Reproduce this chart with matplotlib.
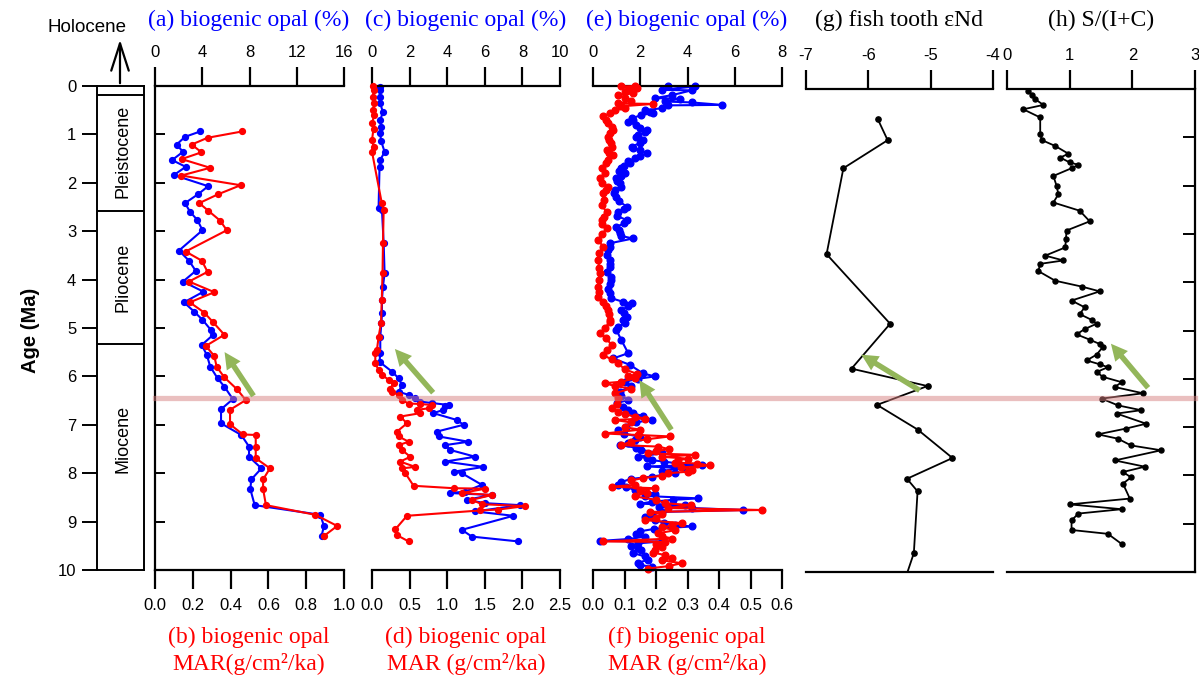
import numpy as np
import matplotlib.pyplot as plt
from matplotlib.lines import Line2D
from matplotlib.patches import FancyArrowPatch
from matplotlib.ticker import FormatStrFormatter

plt.rcParams['font.family'] = ['Liberation Sans', 'DejaVu Sans']
plt.rcParams['axes.unicode_minus'] = False

# ---- data (ages in Ma) ----
ages_ticks = list(range(11))
epoch_names = ['Pleistocene', 'Pliocene', 'Miocene']
epoch_bounds = [0.18, 2.58, 5.33, 10.0]
epoch_label_pos = [1.36, 3.95, 7.3]

# (a) biogenic opal %, (b) MAR
a_age = [0.94, 1.05, 1.21, 1.36, 1.53, 1.67, 1.84, 2.07, 2.23, 2.42, 2.60, 2.77, 2.98,
         3.40, 3.61, 3.82, 4.04, 4.25, 4.47, 4.66, 4.83, 5.04, 5.15, 5.35, 5.56, 5.80,
         6.04, 6.21, 6.47, 6.68, 6.97, 7.21, 7.45, 7.66, 7.90, 8.13, 8.33, 8.66, 8.86,
         9.09, 9.30]
a_pct = [3.82, 2.54, 1.83, 2.37, 1.45, 2.60, 1.60, 4.50, 3.68, 2.54, 2.97, 3.59, 4.02,
         2.03, 2.88, 3.45, 2.37, 4.10, 2.45, 3.31, 4.02, 4.73, 4.88, 3.96, 4.39, 4.68,
         5.30, 5.87, 6.59, 5.59, 5.59, 7.30, 7.96, 7.96, 9.01, 8.15, 8.07, 8.44, 14.0,
         14.3, 14.1]
b_age = [0.94, 1.07, 1.21, 1.37, 1.51, 1.69, 1.85, 2.05, 2.24, 2.42, 2.58, 2.78, 2.98,
         3.42, 3.61, 3.84, 4.04, 4.26, 4.47, 4.68, 4.87, 5.14, 5.37, 5.58, 5.80, 6.02,
         6.27, 6.49, 6.69, 6.99, 7.20, 7.21, 7.45, 7.69, 7.90, 8.13, 8.33, 8.66, 8.86,
         9.09, 9.30]
b_mar = [0.46, 0.278, 0.194, 0.246, 0.141, 0.292, 0.139, 0.453, 0.332, 0.234, 0.283,
         0.344, 0.38, 0.162, 0.248, 0.278, 0.18, 0.314, 0.184, 0.26, 0.305, 0.367, 0.269,
         0.314, 0.326, 0.367, 0.435, 0.48, 0.397, 0.397, 0.465, 0.533, 0.533, 0.533,
         0.608, 0.572, 0.572, 0.587, 0.849, 0.964, 0.893]

# (c) biogenic opal %, (d) MAR
c_age = [0.02, 0.08, 0.22, 0.36, 0.54, 0.70, 0.84, 0.98, 1.13, 1.36, 1.53, 1.67, 2.53,
         2.56, 3.25, 3.87, 4.15, 4.42, 4.70, 4.90, 5.18, 5.52, 5.70, 5.90, 6.04, 6.18,
         6.32, 6.38, 6.45, 6.52, 6.55, 6.59, 6.62, 6.69, 6.76, 6.90, 7.00, 7.14, 7.24,
         7.35, 7.42, 7.52, 7.66, 7.76, 7.87, 7.97, 8.00, 8.24, 8.38, 8.41, 8.45, 8.55,
         8.62, 8.66, 8.79, 8.88, 9.17, 9.31, 9.41]
c_pct = [0.44, 0.44, 0.40, 0.44, 0.58, 0.44, 0.48, 0.44, 0.48, 0.67, 0.44, 0.40, 0.35,
         0.53, 0.62, 0.67, 0.58, 0.53, 0.53, 0.50, 0.44, 0.44, 0.40, 1.06, 1.42, 1.59,
         1.42, 1.95, 2.30, 2.57, 3.18, 4.07, 3.89, 3.80, 3.27, 4.51, 4.87, 3.45, 3.54,
         5.13, 3.89, 4.16, 5.49, 3.89, 5.93, 4.34, 4.78, 5.84, 4.96, 4.16, 6.37, 5.04,
         6.02, 7.88, 5.49, 7.52, 4.78, 5.31, 7.79]
d_age = [0.00, 0.08, 0.22, 0.36, 0.50, 0.60, 0.77, 0.88, 1.12, 1.25, 1.36, 2.42, 2.56,
         3.25, 3.87, 4.42, 4.90, 5.18, 5.45, 5.52, 5.73, 5.87, 5.97, 6.07, 6.14, 6.25,
         6.32, 6.38, 6.49, 6.56, 6.57, 6.59, 6.66, 6.69, 6.76, 6.83, 6.97, 7.14, 7.24,
         7.35, 7.42, 7.52, 7.66, 7.76, 7.87, 7.90, 8.00, 8.26, 8.31, 8.32, 8.41, 8.45,
         8.55, 8.64, 8.68, 8.75, 8.77, 8.88, 9.16, 9.28, 9.41]
d_mar = [0.013, 0.02, 0.013, 0.03, 0.013, 0.03, 0.0, 0.02, 0.0, 0.02, 0.0, 0.13, 0.155,
         0.146, 0.14, 0.13, 0.12, 0.088, 0.066, 0.044, 0.044, 0.088, 0.133, 0.221, 0.287,
         0.243, 0.265, 0.354, 0.398, 0.487, 0.641, 0.796, 0.752, 0.597, 0.641, 0.376,
         0.465, 0.332, 0.354, 0.487, 0.354, 0.398, 0.509, 0.376, 0.575, 0.398, 0.443,
         0.553, 1.084, 1.505, 1.195, 1.594, 1.328, 1.46, 2.036, 1.682, 1.438, 0.465,
         0.31, 0.332, 0.487]

# (e) biogenic opal %, (f) MAR  (age, value)
e_points = [
    (0.00, 3.18), (0.01, 4.32), (0.08, 2.90), (0.09, 4.18), (0.19, 3.33), (0.25, 2.62),
    (0.26, 3.68), (0.32, 3.04), (0.34, 4.18), (0.39, 5.45), (0.40, 3.18), (0.46, 2.90),
    (0.50, 2.20), (0.53, 2.40), (0.56, 2.55), (0.60, 2.05), (0.67, 1.63), (0.70, 1.70),
    (0.74, 1.49), (0.81, 1.84), (0.86, 2.00), (0.91, 2.27), (0.96, 2.20), (1.01, 1.91),
    (1.06, 1.80), (1.12, 2.12), (1.18, 2.00), (1.25, 1.63), (1.29, 1.70), (1.32, 1.98),
    (1.39, 2.27), (1.44, 2.00), (1.49, 1.77), (1.55, 1.50), (1.60, 1.56), (1.65, 1.30),
    (1.70, 1.20), (1.75, 1.10), (1.80, 1.35), (1.86, 1.20), (1.91, 0.99), (1.96, 1.00),
    (2.01, 1.13), (2.08, 1.20), (2.15, 0.92), (2.22, 0.90), (2.29, 0.99), (2.38, 1.10),
    (2.49, 1.42), (2.55, 1.30), (2.60, 1.06), (2.68, 1.00), (2.77, 1.42), (2.84, 1.30),
    (2.91, 0.99), (2.97, 1.10), (3.04, 1.13), (3.10, 1.20), (3.15, 1.70), (3.25, 0.71),
    (3.32, 0.70), (3.39, 0.64), (3.50, 0.60), (3.60, 0.71), (3.67, 0.70), (3.73, 0.71),
    (3.85, 0.60), (3.95, 0.75), (4.01, 0.78), (4.10, 0.70), (4.20, 0.65), (4.28, 0.71),
    (4.38, 0.75), (4.46, 1.28), (4.49, 1.63), (4.55, 1.50), (4.63, 1.20), (4.70, 1.30),
    (4.77, 1.42), (4.84, 1.25), (4.90, 1.35), (4.97, 1.06), (5.04, 0.99), (5.25, 1.20),
    (5.52, 1.49), (5.63, 0.85), (5.76, 1.56), (5.94, 2.12), (6.00, 2.62), (6.05, 1.90),
    (6.11, 1.35), (6.20, 1.60), (6.32, 1.13), (6.40, 1.20), (6.49, 1.49), (6.55, 1.00),
    (6.63, 1.28), (6.70, 1.50), (6.76, 1.70), (6.82, 2.10), (6.90, 2.48), (6.95, 1.80),
    (7.05, 1.40), (7.11, 1.06), (7.18, 1.30), (7.25, 2.00), (7.31, 1.77), (7.37, 1.50),
    (7.42, 1.13), (7.47, 1.80), (7.52, 2.05), (7.59, 2.90), (7.66, 1.91), (7.69, 2.30),
    (7.73, 2.48), (7.76, 3.00), (7.80, 3.61), (7.83, 4.60), (7.86, 2.27), (7.90, 3.90),
    (7.95, 2.90), (8.00, 3.47), (8.07, 2.48), (8.12, 1.60), (8.18, 1.20), (8.24, 1.06),
    (8.28, 1.40), (8.35, 1.77), (8.42, 2.62), (8.47, 2.20), (8.52, 4.46), (8.55, 3.40),
    (8.59, 2.48), (8.63, 2.00), (8.66, 3.89), (8.70, 2.80), (8.72, 4.20), (8.76, 6.37),
    (8.80, 2.90), (8.85, 2.50), (8.90, 2.20), (8.97, 2.62), (9.02, 3.00), (9.07, 3.47),
    (9.10, 4.18), (9.15, 2.60), (9.20, 2.00), (9.25, 1.80), (9.31, 2.20), (9.36, 1.50),
    (9.40, 0.28), (9.41, 2.90), (9.45, 1.90), (9.50, 1.60), (9.55, 1.90), (9.59, 2.05),
    (9.65, 1.70), (9.72, 2.20), (9.79, 2.34), (9.85, 1.90), (9.90, 2.00), (9.93, 2.48),
]
f_points = [
    (0.00, 0.133), (0.01, 0.090), (0.05, 0.140), (0.08, 0.112), (0.12, 0.100),
    (0.15, 0.127), (0.19, 0.080), (0.25, 0.101), (0.30, 0.120), (0.36, 0.080),
    (0.37, 0.191), (0.42, 0.090), (0.46, 0.101), (0.50, 0.070), (0.56, 0.053),
    (0.63, 0.032), (0.70, 0.040), (0.77, 0.048), (0.84, 0.060), (0.91, 0.064),
    (0.98, 0.055), (1.05, 0.048), (1.12, 0.050), (1.18, 0.058), (1.25, 0.060),
    (1.32, 0.043), (1.38, 0.050), (1.43, 0.064), (1.53, 0.048), (1.60, 0.040),
    (1.70, 0.027), (1.80, 0.037), (1.91, 0.021), (2.00, 0.030), (2.08, 0.048),
    (2.15, 0.040), (2.22, 0.032), (2.35, 0.035), (2.46, 0.027), (2.60, 0.043),
    (2.70, 0.035), (2.77, 0.027), (2.85, 0.030), (2.94, 0.043), (3.05, 0.030),
    (3.18, 0.016), (3.32, 0.032), (3.45, 0.020), (3.60, 0.016), (3.75, 0.020),
    (3.87, 0.021), (4.00, 0.020), (4.15, 0.016), (4.25, 0.020), (4.35, 0.016),
    (4.46, 0.032), (4.55, 0.040), (4.63, 0.048), (4.72, 0.050), (4.84, 0.053),
    (4.87, 0.053), (5.01, 0.037), (5.11, 0.021), (5.20, 0.040), (5.35, 0.059),
    (5.45, 0.045), (5.56, 0.032), (5.65, 0.060), (5.73, 0.080), (5.85, 0.100),
    (5.95, 0.140), (6.00, 0.110), (6.04, 0.133), (6.11, 0.090), (6.14, 0.037),
    (6.20, 0.070), (6.25, 0.120), (6.35, 0.069), (6.45, 0.080), (6.56, 0.075),
    (6.65, 0.060), (6.73, 0.080), (6.78, 0.100), (6.83, 0.133), (6.87, 0.165),
    (6.90, 0.069), (6.95, 0.120), (7.05, 0.100), (7.10, 0.150), (7.18, 0.037),
    (7.21, 0.143), (7.24, 0.244), (7.30, 0.170), (7.35, 0.120), (7.42, 0.090),
    (7.45, 0.207), (7.50, 0.240), (7.55, 0.200), (7.59, 0.175), (7.62, 0.324),
    (7.66, 0.218), (7.70, 0.300), (7.73, 0.271), (7.78, 0.260), (7.80, 0.330),
    (7.84, 0.372), (7.88, 0.280), (7.93, 0.313), (7.97, 0.300), (8.00, 0.239),
    (8.05, 0.220), (8.10, 0.160), (8.15, 0.120), (8.24, 0.133), (8.28, 0.059),
    (8.31, 0.196), (8.35, 0.150), (8.40, 0.170), (8.48, 0.133), (8.55, 0.200),
    (8.62, 0.228), (8.66, 0.310), (8.72, 0.239), (8.76, 0.536), (8.80, 0.180),
    (8.85, 0.220), (8.92, 0.200), (8.97, 0.165), (9.03, 0.281), (9.08, 0.250),
    (9.12, 0.220), (9.18, 0.260), (9.24, 0.207), (9.30, 0.220), (9.35, 0.250),
    (9.41, 0.032), (9.42, 0.228), (9.47, 0.200), (9.52, 0.220), (9.59, 0.196),
    (9.64, 0.190), (9.69, 0.228), (9.75, 0.250), (9.80, 0.220), (9.86, 0.281),
    (9.92, 0.240), (9.97, 0.175),
]

# (g) fish tooth eNd
g_age = [0.62, 1.06, 1.64, 3.42, 4.86, 5.79, 6.15, 6.54, 7.05, 7.64, 8.07, 8.33, 9.61]
g_end = [-5.85, -5.69, -6.40, -6.67, -5.65, -6.27, -5.05, -5.86, -5.21, -4.65, -5.38,
         -5.21, -5.27]
g_tail_age, g_tail_end = 10.3, -5.45

# (h) S/(I+C)
h_age = [0.04, 0.12, 0.21, 0.33, 0.42, 0.59, 0.94, 1.06, 1.18, 1.34, 1.42, 1.52, 1.57,
         1.64, 1.80, 2.00, 2.18, 2.35, 2.52, 2.74, 2.93, 3.11, 3.28, 3.45, 3.55, 3.62,
         3.77, 3.97, 4.09, 4.19, 4.38, 4.52, 4.66, 4.78, 4.86, 4.97, 5.08, 5.19, 5.28,
         5.34, 5.50, 5.62, 5.70, 5.76, 5.86, 5.96, 6.07, 6.17, 6.30, 6.41, 6.55, 6.65,
         6.72, 6.93, 7.03, 7.15, 7.24, 7.38, 7.48, 7.69, 7.82, 7.93, 8.04, 8.17, 8.48,
         8.60, 8.70, 8.79, 8.93, 9.13, 9.21, 9.42]
h_sic = [0.34, 0.40, 0.45, 0.58, 0.26, 0.53, 0.53, 0.56, 0.77, 0.98, 0.85, 1.00, 1.14,
         1.03, 0.74, 0.79, 0.82, 0.74, 1.16, 1.32, 0.95, 0.94, 0.93, 0.61, 0.90, 0.53,
         0.50, 0.77, 1.19, 1.48, 1.03, 1.24, 1.16, 1.35, 1.43, 1.24, 1.11, 1.32, 1.48,
         1.53, 1.43, 1.27, 1.48, 1.61, 1.43, 1.53, 1.83, 1.72, 2.17, 1.51, 1.77, 2.14,
         1.75, 2.22, 1.90, 1.45, 1.77, 1.98, 2.46, 1.72, 2.20, 1.85, 1.98, 1.85, 1.96,
         1.00, 1.83, 1.14, 1.03, 1.03, 1.61, 1.83]

# green trend arrows (tail -> head), in each panel's top-axis units
arrow_a = ((8.47, 6.45), (5.76, 5.45))
arrow_c = ((3.35, 6.38), (1.12, 5.39))
arrow_e = ((3.38, 7.15), (1.90, 6.03))
arrow_g = ((-5.14, 6.27), (-6.15, 5.47))
arrow_h = ((2.28, 6.23), (1.63, 5.23))
event_age = 6.45

# ---- layout ----
W, H = 1199, 679
fig = plt.figure(figsize=(W / 100, H / 100), dpi=100)
BLUE, RED, GREEN = '#0000FF', '#FF0000', '#93B65A'
SERIF = ['Liberation Serif', 'DejaVu Serif']
TICK_FS = 12
TITLE_FS = 17
SPINE_W = 1.6


def px_axes(x0, y0, x1, y1):
    return fig.add_axes([x0 / W, 1 - y1 / H, (x1 - x0) / W, (y1 - y0) / H])


def ftext(x, y, s, **kw):
    fig.text(x / W, 1 - y / H, s, ha='center', va='center', **kw)


def green_arrow(ax, arr):
    (x0, y0), (x1, y1) = arr
    p = FancyArrowPatch((x0, y0), (x1, y1), transform=ax.transData,
                        arrowstyle='simple,tail_width=0.28,head_width=0.85,head_length=0.85',
                        mutation_scale=14, color=GREEN, lw=0, zorder=4)
    fig.add_artist(p)


def paired_panel(box, p_age, p_val, p_max, p_ticks, m_age, m_val, m_max, m_ticks, ms):
    ax = px_axes(*box)
    ax.set_facecolor('none')
    ax.set_ylim(10, 0)
    ax.set_xlim(0, p_max)

    # twiny() moves the host ticks to the bottom, so make it first
    tw = ax.twiny()
    tw.set_xlim(0, m_max)
    tw.xaxis.tick_bottom()
    tw.xaxis.set_label_position('bottom')
    tw.set_xticks(m_ticks)
    tw.xaxis.set_major_formatter(FormatStrFormatter('%.1f'))
    for s in ['top', 'left', 'right']:
        tw.spines[s].set_visible(False)
    tw.spines['bottom'].set_linewidth(SPINE_W)
    tw.tick_params(axis='x', direction='out', length=14, width=SPINE_W, pad=6,
                   labelsize=TICK_FS)

    ax.xaxis.tick_top()
    ax.set_xticks(p_ticks)
    for s in ['bottom', 'left', 'right']:
        ax.spines[s].set_visible(False)
    ax.spines['top'].set_linewidth(SPINE_W)
    ax.tick_params(axis='x', bottom=False, labelbottom=False, top=True, labeltop=True,
                   direction='out', length=14, width=SPINE_W, pad=5, labelsize=TICK_FS)
    ax.tick_params(axis='y', left=False, labelleft=False)

    ax.plot(p_val, p_age, '-o', color=BLUE, lw=1.5, ms=ms, clip_on=False)
    tw.plot(m_val, m_age, '-o', color=RED, lw=1.5, ms=ms, clip_on=False)
    return ax


# epoch column
ax_ep = px_axes(97, 86, 144, 570)
ax_ep.set_ylim(10, 0)
ax_ep.set_xlim(0, 1)
ax_ep.set_xticks([])
ax_ep.set_yticks(ages_ticks)
ax_ep.tick_params(axis='y', direction='out', length=11, width=1.4, pad=4,
                  labelsize=TICK_FS)
for s in ax_ep.spines.values():
    s.set_linewidth(1.4)
for b in epoch_bounds[:-1]:
    ax_ep.axhline(b, color='black', lw=1.4)
for name, pos in zip(epoch_names, epoch_label_pos):
    ax_ep.text(0.55, pos, name, rotation=90, ha='center', va='center', fontsize=13)

ftext(30, 330, 'Age (Ma)', rotation=90, fontsize=14.5, fontweight='bold')
ftext(87, 28, 'Holocene', fontsize=13.5)
fig.add_artist(FancyArrowPatch((120 / W, 1 - 86 / H), (120 / W, 1 - 37 / H),
                               transform=fig.transFigure,
                               arrowstyle='->,head_length=1.4,head_width=0.45',
                               mutation_scale=14, color='black', lw=1.6))

# paired opal panels
ax_a = paired_panel((155, 86, 344, 570), a_age, a_pct, 16, [0, 4, 8, 12, 16],
                    b_age, b_mar, 1.0, [0, 0.2, 0.4, 0.6, 0.8, 1.0], 4.2)
ax_a.spines['left'].set_visible(True)
ax_a.spines['left'].set_linewidth(SPINE_W)
ax_a.set_yticks(range(1, 10))
ax_a.tick_params(axis='y', left=True, direction='in', length=7, width=1.4, labelleft=False)

ax_c = paired_panel((372, 86, 560, 570), c_age, c_pct, 10, [0, 2, 4, 6, 8, 10],
                    d_age, d_mar, 2.5, [0, 0.5, 1.0, 1.5, 2.0, 2.5], 4.2)

e_age, e_pct = zip(*sorted(e_points))
f_age, f_mar = zip(*sorted(f_points))
ax_e = paired_panel((593, 86, 782, 570), e_age, e_pct, 8, [0, 2, 4, 6, 8],
                    f_age, f_mar, 0.6, [0, 0.1, 0.2, 0.3, 0.4, 0.5, 0.6], 4.8)

# (g) fish tooth eNd
ax_g = px_axes(806, 89, 993, 572)
ax_g.set_facecolor('none')
ax_g.set_ylim(10, 0)
ax_g.set_xlim(-7, -4)
ax_g.xaxis.tick_top()
ax_g.set_xticks([-7, -6, -5, -4])
ax_g.spines['left'].set_visible(False)
ax_g.spines['right'].set_visible(False)
for s in ['top', 'bottom']:
    ax_g.spines[s].set_linewidth(SPINE_W)
ax_g.tick_params(axis='x', direction='out', length=14, width=SPINE_W, pad=5,
                 labelsize=TICK_FS)
ax_g.tick_params(axis='y', left=False, labelleft=False)
ax_g.plot(g_end + [g_tail_end], g_age + [g_tail_age], '-', color='black', lw=1.3)
ax_g.plot(g_end, g_age, 'o', color='black', ms=3.8)

# (h) S/(I+C)
ax_h = px_axes(1007, 89, 1195, 572)
ax_h.set_facecolor('none')
ax_h.set_ylim(10, 0)
ax_h.set_xlim(0, 3)
ax_h.xaxis.tick_top()
ax_h.set_xticks([0, 1, 2, 3])
ax_h.spines['left'].set_visible(False)
for s in ['top', 'bottom', 'right']:
    ax_h.spines[s].set_linewidth(SPINE_W)
ax_h.tick_params(axis='x', direction='out', length=14, width=SPINE_W, pad=5,
                 labelsize=TICK_FS)
ax_h.set_yticks(range(1, 10))
ax_h.tick_params(axis='y', left=False, right=True, direction='in', length=9,
                 width=1.4, labelleft=False)
ax_h.plot(h_sic, h_age, '-o', color='black', lw=1.3, ms=3.6, clip_on=False)

# titles
ftext(249, 20, '(a) biogenic opal (%)', color=BLUE, fontsize=TITLE_FS, family=SERIF)
ftext(466, 20, '(c) biogenic opal (%)', color=BLUE, fontsize=TITLE_FS, family=SERIF)
ftext(687, 20, '(e) biogenic opal (%)', color=BLUE, fontsize=TITLE_FS, family=SERIF)
ftext(899, 20, '(g) fish tooth εNd', color='black', fontsize=TITLE_FS, family=SERIF)
ftext(1101, 20, '(h) S/(I+C)', color='black', fontsize=TITLE_FS, family=SERIF)
for cx, lab, unit in [(249, '(b) biogenic opal', 'MAR(g/cm²/ka)'),
                      (466, '(d) biogenic opal', 'MAR (g/cm²/ka)'),
                      (687, '(f) biogenic opal', 'MAR (g/cm²/ka)')]:
    ftext(cx, 637, lab, color=RED, fontsize=TITLE_FS, family=SERIF)
    ftext(cx, 664, unit, color=RED, fontsize=TITLE_FS, family=SERIF)

# event line and trend arrows
fig.add_artist(Line2D([155 / W, 1195 / W], [1 - 398 / H, 1 - 398 / H],
                      transform=fig.transFigure, color='#D78181', alpha=0.5,
                      lw=3.8, zorder=3))
for ax, arr in [(ax_a, arrow_a), (ax_c, arrow_c), (ax_e, arrow_e),
                (ax_g, arrow_g), (ax_h, arrow_h)]:
    green_arrow(ax, arr)

fig.savefig('out.png', dpi=100)
